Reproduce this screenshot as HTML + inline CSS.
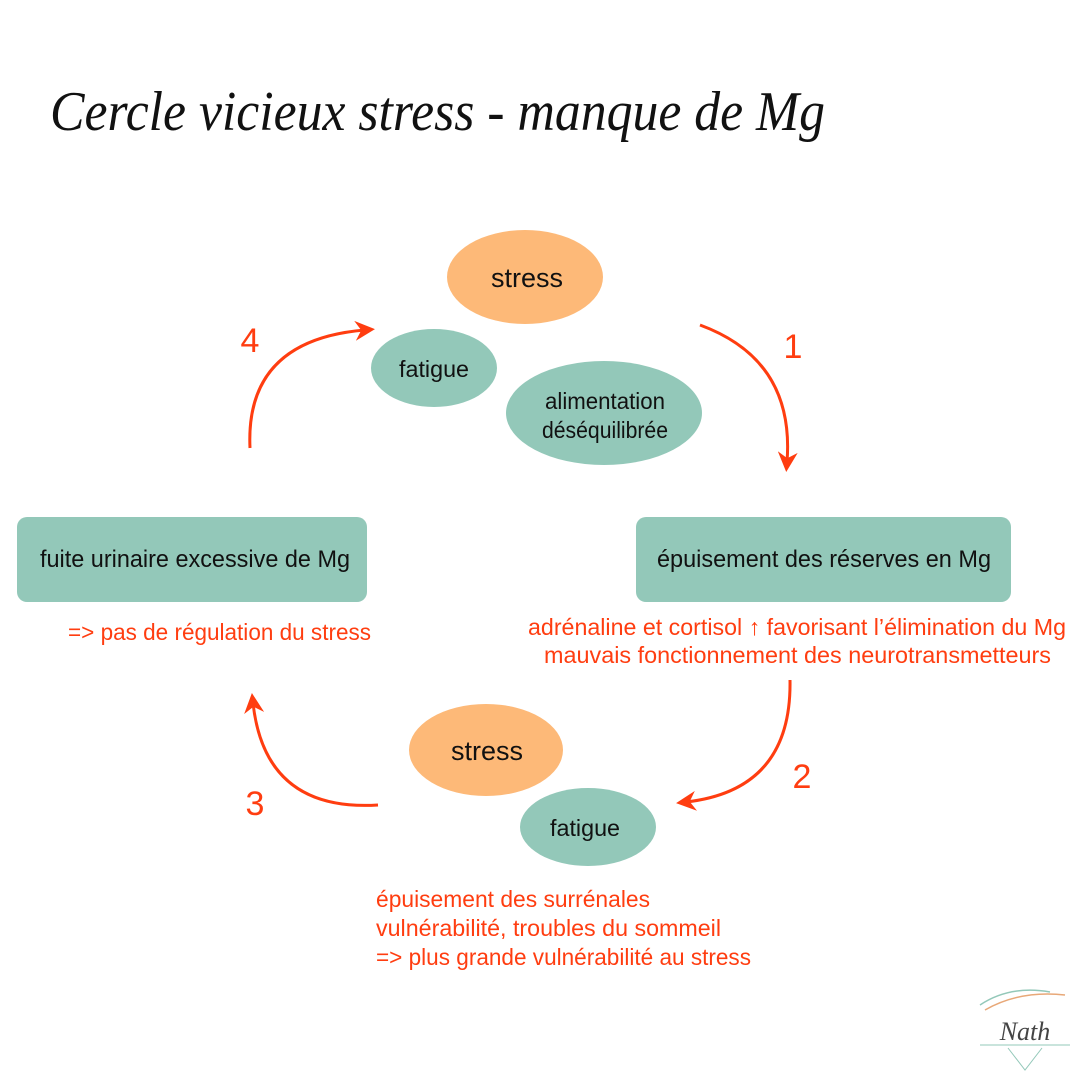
<!DOCTYPE html>
<html><head><meta charset="utf-8"><style>
body{margin:0;background:#fff}
svg{display:block}
text{font-family:"Liberation Sans Narrow","Liberation Sans",sans-serif;}
</style></head><body>
<svg width="1080" height="1080" viewBox="0 0 1080 1080" xmlns="http://www.w3.org/2000/svg">
<defs>
<marker id="ah" markerWidth="20" markerHeight="20" refX="8" refY="8" orient="auto" markerUnits="userSpaceOnUse" viewBox="0 0 16 16">
<path d="M0,0 L16,8 L0,16 L5,8 Z" fill="#ff3d10"/></marker>
</defs>
<text x="50" y="130" font-style="italic" font-size="56" fill="#111" textLength="775" lengthAdjust="spacingAndGlyphs" style="font-family:'Liberation Serif',serif">Cercle vicieux stress - manque de Mg</text>

<ellipse cx="525" cy="277" rx="78" ry="47" fill="#fdb978"/>
<text x="527" y="287" font-size="27" text-anchor="middle" fill="#111" textLength="72" lengthAdjust="spacingAndGlyphs">stress</text>
<ellipse cx="434" cy="368" rx="63" ry="39" fill="#93c8b9"/>
<text x="434" y="377" font-size="23" text-anchor="middle" fill="#111" textLength="70" lengthAdjust="spacingAndGlyphs">fatigue</text>
<ellipse cx="604" cy="413" rx="98" ry="52" fill="#93c8b9"/>
<text x="605" y="409" font-size="23" text-anchor="middle" fill="#111" textLength="120" lengthAdjust="spacingAndGlyphs">alimentation</text>
<text x="605" y="438" font-size="23" text-anchor="middle" fill="#111" textLength="126" lengthAdjust="spacingAndGlyphs">déséquilibrée</text>

<rect x="636" y="517" width="375" height="85" rx="10" fill="#93c8b9"/>
<text x="824" y="567" font-size="24" text-anchor="middle" fill="#111" textLength="334" lengthAdjust="spacingAndGlyphs">épuisement des réserves en Mg</text>
<rect x="17" y="517" width="350" height="85" rx="10" fill="#93c8b9"/>
<text x="195" y="567" font-size="24" text-anchor="middle" fill="#111" textLength="310" lengthAdjust="spacingAndGlyphs">fuite urinaire excessive de Mg</text>

<ellipse cx="486" cy="750" rx="77" ry="46" fill="#fdb978"/>
<text x="487" y="760" font-size="27" text-anchor="middle" fill="#111" textLength="72" lengthAdjust="spacingAndGlyphs">stress</text>
<ellipse cx="588" cy="827" rx="68" ry="39" fill="#93c8b9"/>
<text x="585" y="836" font-size="23" text-anchor="middle" fill="#111" textLength="70" lengthAdjust="spacingAndGlyphs">fatigue</text>

<g fill="#ff3d10" font-size="23">
<text x="528" y="635" textLength="538" lengthAdjust="spacingAndGlyphs">adrénaline et cortisol ↑ favorisant l’élimination du Mg</text>
<text x="544" y="663" textLength="507" lengthAdjust="spacingAndGlyphs">mauvais fonctionnement des neurotransmetteurs</text>
<text x="68" y="640" textLength="303" lengthAdjust="spacingAndGlyphs">=&gt; pas de régulation du stress</text>
<text x="376" y="907" textLength="274" lengthAdjust="spacingAndGlyphs">épuisement des surrénales</text>
<text x="376" y="936" textLength="345" lengthAdjust="spacingAndGlyphs">vulnérabilité, troubles du sommeil</text>
<text x="376" y="965" textLength="375" lengthAdjust="spacingAndGlyphs">=&gt; plus grande vulnérabilité au stress</text>
</g>
<g fill="#ff3d10" font-size="34" text-anchor="middle" style="font-family:'Liberation Sans',sans-serif">
<text x="793" y="358">1</text>
<text x="802" y="788">2</text>
<text x="255" y="815">3</text>
<text x="250" y="352">4</text>
</g>
<g fill="none" stroke="#ff3d10" stroke-width="3">
<path d="M700 325 Q795 360 787 462" marker-end="url(#ah)"/>
<path d="M790 680 Q792 790 686 802" marker-end="url(#ah)"/>
<path d="M378 805 Q265 812 253 703" marker-end="url(#ah)"/>
<path d="M250 448 Q245 340 365 330" marker-end="url(#ah)"/>
</g>

<g fill="none">
<path d="M985 1010 Q1020 990 1065 995" stroke="#e8a878" stroke-width="1.5"/>
<path d="M980 1005 Q1010 985 1050 992" stroke="#93c8b9" stroke-width="1.5"/>
<path d="M980 1045 H1070" stroke="#93c8b9" stroke-width="1"/>
<path d="M1008 1048 L1025 1070 L1042 1048" stroke="#93c8b9" stroke-width="1"/>
</g>
<text x="1025" y="1040" font-size="26" font-style="italic" text-anchor="middle" fill="#444" style="font-family:'Liberation Serif',serif">Nath</text>
</svg>
</body></html>
